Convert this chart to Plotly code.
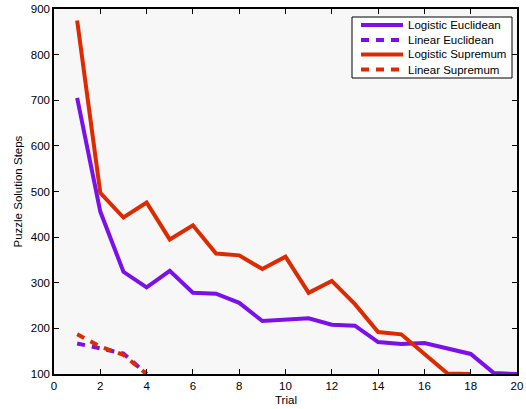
import plotly.graph_objects as go

# Trial numbers
trials = list(range(1, 21))

# Puzzle solution steps per trial
logistic_euclidean = [705, 456, 324, 290, 326, 278, 276, 256, 216, 220,
                      222, 208, 206, 170, 166, 168, 156, 144, 102, 100]
logistic_supremum = [875, 497, 443, 476, 395, 426, 364, 360, 330, 357,
                     278, 304, 253, 192, 187, 145, 101, 100]
linear_euclidean = [167, 155, 145, 100]
linear_supremum = [187, 160, 142, 100]

series_names = ["Logistic Euclidean", "Linear Euclidean",
                "Logistic Supremum", "Linear Supremum"]

purple = "#7b10ea"
red = "#dd2a00"
dash_style = "8px,7px"
styles = [(purple, "solid"), (purple, dash_style), (red, "solid"), (red, dash_style)]
series = [logistic_euclidean, linear_euclidean, logistic_supremum, linear_supremum]

W, H = 526, 409
ML, MR, MT, MB = 54, 9, 9, 35
pw, ph = W - ML - MR, H - MT - MB

fig = go.Figure()
for name, ys, (col, dash) in zip(series_names, series, styles):
    fig.add_trace(go.Scatter(x=trials[:len(ys)], y=ys, mode="lines", name=name,
                             line=dict(color=col, width=4, dash=dash),
                             showlegend=False))

# Helpers converting pixel offsets into paper coordinates
def px(x):
    return (x - ML) / pw

def py(y):
    return 1 - (y - MT) / ph

# Legend box
shapes = [dict(type="rect", xref="paper", yref="paper",
               x0=px(352), x1=px(512), y0=py(78), y1=py(17),
               line=dict(color="black", width=1), fillcolor="white", layer="above")]
annotations = []
row_y = [25, 40, 54.5, 69.5]
for name, (col, dash), yy in zip(series_names, styles, row_y):
    shapes.append(dict(type="line", xref="paper", yref="paper",
                       x0=px(361), x1=px(403), y0=py(yy), y1=py(yy),
                       line=dict(color=col, width=4, dash=dash), layer="above"))
    annotations.append(dict(xref="paper", yref="paper", x=px(406), y=py(yy),
                            xanchor="left", yanchor="middle", text=name,
                            showarrow=False, font=dict(size=11.5, color="black")))

# Axis titles
annotations.append(dict(xref="paper", yref="paper", x=0.5, y=py(400),
                        xanchor="center", yanchor="middle", text="Trial",
                        showarrow=False, font=dict(size=11.5, color="black")))
annotations.append(dict(xref="paper", yref="paper", x=px(17), y=0.5,
                        xanchor="center", yanchor="middle", textangle=-90,
                        text="Puzzle Solution Steps",
                        showarrow=False, font=dict(size=11.5, color="black")))

axis_common = dict(showline=True, linecolor="black", linewidth=1.5, mirror="ticks",
                   ticks="inside", ticklen=5, tickcolor="black", tickwidth=1,
                   showgrid=False, zeroline=False, automargin=False,
                   tickfont=dict(size=11.5, color="black"))

fig.update_layout(
    width=W, height=H,
    margin=dict(l=ML, r=MR, t=MT, b=MB, autoexpand=False),
    paper_bgcolor="white", plot_bgcolor="#f7f7f7",
    font=dict(family="Liberation Sans, Arial", size=11.5, color="black"),
    xaxis=dict(range=[0, 20], dtick=2, **axis_common),
    yaxis=dict(range=[100, 900], dtick=100, **axis_common),
    shapes=shapes,
    annotations=annotations,
    showlegend=False,
)

fig.write_html("out.html")
